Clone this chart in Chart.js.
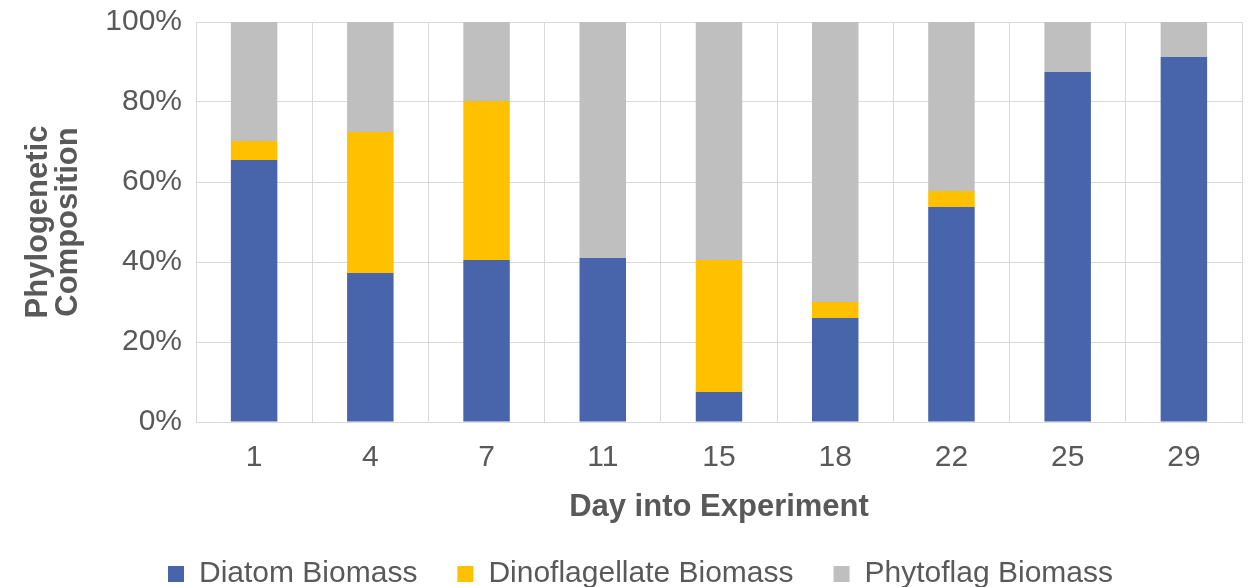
<!DOCTYPE html>
<html>
<head>
<meta charset="utf-8">
<script src="https://cdn.jsdelivr.net/npm/chart.js@4/dist/chart.umd.min.js"></script>
<style>
  html, body { margin: 0; padding: 0; background: #fff; }
  #wrap { width: 1251px; height: 587px; }
</style>
</head>
<body>
<div id="wrap"><canvas id="chart" width="1251" height="587"></canvas></div>
<script>
// ---------- Data ----------
const DAYS = ['1', '4', '7', '11', '15', '18', '22', '25', '29'];
const DIATOM = [65.5, 37.25, 40.5, 41, 7.5, 26, 53.75, 87.5, 91.25];
const DINO   = [4.75, 35.25, 39.75, 0, 33, 4, 4, 0, 0];
const PHYTO  = [29.75, 27.5, 19.75, 59, 59.5, 70, 42.25, 12.5, 8.75];
const Y_TICKS = [0, 20, 40, 60, 80, 100];

const GREY_TEXT = '#595959';
const GRID = '#d9d9d9';
const FONT = '"Liberation Sans", Arial, sans-serif';

const ctx = document.getElementById('chart').getContext('2d');

// nudge the legend a bit right, the original is centred slightly off the canvas middle
const legendNudge = {
  id: 'legendNudge',
  afterLayout(chart) {
    chart.legend.left += 8;
    chart.legend.right += 8;
  }
};

new Chart(ctx, {
  type: 'bar',
  data: {
    labels: DAYS,
    datasets: [
      { label: 'Diatom Biomass', data: DIATOM, backgroundColor: '#4864ab' },
      { label: 'Dinoflagellate Biomass', data: DINO, backgroundColor: '#ffc000' },
      { label: 'Phytoflag Biomass', data: PHYTO, backgroundColor: '#bfbfbf' }
    ]
  },
  plugins: [legendNudge],
  options: {
    responsive: false,
    animation: false,
    // legend sits very close to the bottom edge, hence the small negative bottom padding
    layout: { padding: { top: 22, right: 9, left: 23, bottom: -12 } },
    datasets: { bar: { categoryPercentage: 1.0, barPercentage: 0.4 } },
    plugins: {
      tooltip: { enabled: false },
      legend: {
        position: 'bottom',
        labels: {
          boxWidth: 16, boxHeight: 16, padding: 40,
          color: GREY_TEXT,
          font: { family: FONT, size: 30 }
        }
      }
    },
    scales: {
      x: {
        stacked: true,
        afterFit: s => { s.height = 97; },
        grid: { color: GRID, drawTicks: false, offset: true },
        border: { color: GRID },
        ticks: { color: GREY_TEXT, padding: 18, font: { family: FONT, size: 30 } },
        title: {
          display: true, text: 'Day into Experiment', color: GREY_TEXT,
          padding: { top: 0, bottom: -7 },
          font: { family: FONT, size: 31, weight: 'bold' }
        }
      },
      y: {
        stacked: true,
        min: 0, max: 100,
        afterBuildTicks: s => { s.ticks = Y_TICKS.map(v => ({ value: v })); },
        afterFit: s => { s.width = 173; s.paddingTop = 12; s.paddingBottom = 12; },
        grid: { color: GRID, drawTicks: false },
        border: { display: false },
        ticks: {
          color: GREY_TEXT, padding: 14,
          font: { family: FONT, size: 30 },
          callback: v => v + '%'
        },
        title: {
          display: true, text: ['Phylogenetic', 'Composition'], color: GREY_TEXT,
          padding: { top: 0, bottom: 0 },
          font: { family: FONT, size: 31, weight: 'bold', lineHeight: 0.97 }
        }
      }
    }
  }
});
</script>
</body>
</html>
